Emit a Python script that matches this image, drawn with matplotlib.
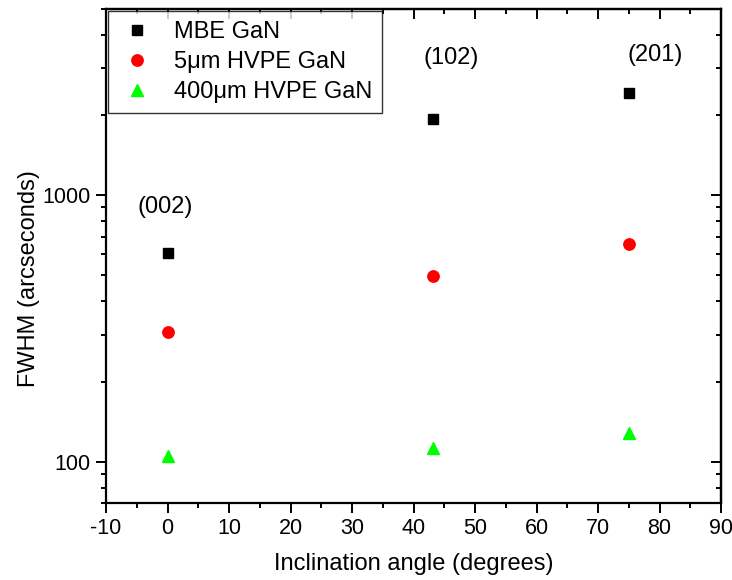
import matplotlib
matplotlib.use("Agg")
import matplotlib.pyplot as plt
from matplotlib.ticker import LogLocator, NullFormatter, FixedLocator, MultipleLocator

plt.rcParams['font.family'] = ['Liberation Sans', 'DejaVu Sans']
plt.rcParams['axes.unicode_minus'] = False

# Inclination angles of the measured reflections (degrees)
angles = [0.0, 43.2, 75.0]
reflections = ["(002)", "(102)", "(201)"]

# Rocking-curve FWHM values (arcseconds)
fwhm_mbe = [605, 1935, 2430]
fwhm_hvpe_5um = [307, 499, 655]
fwhm_hvpe_400um = [105, 113, 128]

series_labels = ["MBE GaN", "5\u03bcm HVPE GaN", "400\u03bcm HVPE GaN"]

# Label anchor points for the reflection names
label_x = [-0.3, 46.1, 79.3]
label_y = [905, 3280, 3360]

fig = plt.figure(figsize=(7.32, 5.8), dpi=100)
ax = fig.add_axes([106 / 732, 1 - 503 / 580, (721 - 106) / 732, (503 - 9) / 580])

ax.plot(angles, fwhm_mbe, linestyle='none', marker='s', markersize=7.2,
        color='black', label=series_labels[0])
ax.plot(angles, fwhm_hvpe_5um, linestyle='none', marker='o', markersize=8.2,
        color='#ff0000', label=series_labels[1])
ax.plot(angles, fwhm_hvpe_400um, linestyle='none', marker='^', markersize=9.0,
        color='#00ff00', label=series_labels[2])

for name, x, y in zip(reflections, label_x, label_y):
    ax.text(x, y, name, ha='center', va='center', fontsize=17)

ax.set_yscale('log')
ax.set_xlim(-10, 90)
ax.set_ylim(70, 5000)

ax.xaxis.set_major_locator(MultipleLocator(10))
ax.xaxis.set_minor_locator(MultipleLocator(5))
ax.yaxis.set_major_locator(FixedLocator([100, 1000]))
ax.yaxis.set_minor_locator(LogLocator(base=10, subs=range(2, 10)))
ax.yaxis.set_minor_formatter(NullFormatter())
ax.set_yticklabels(["100", "1000"])

for side in ax.spines.values():
    side.set_linewidth(1.6)

ax.tick_params(which='both', direction='out', top=False, right=False,
               labelsize=15.5, width=1.4, colors='black')
ax.tick_params(which='major', length=7, pad=4)
ax.tick_params(which='minor', length=3.8)

# inward ticks on the top and right edges
sec_x = ax.secondary_xaxis('top')
sec_x.xaxis.set_major_locator(MultipleLocator(10))
sec_x.xaxis.set_minor_locator(MultipleLocator(5))
sec_x.tick_params(which='both', direction='in', labeltop=False, width=1.4)
sec_x.tick_params(which='major', length=7)
sec_x.tick_params(which='minor', length=3.8)
sec_x.spines['top'].set_linewidth(1.6)

sec_y = ax.secondary_yaxis('right')
sec_y.yaxis.set_major_locator(FixedLocator([100, 1000]))
sec_y.yaxis.set_minor_locator(LogLocator(base=10, subs=range(2, 10)))
sec_y.yaxis.set_minor_formatter(NullFormatter())
sec_y.tick_params(which='both', direction='in', labelright=False, width=1.4)
sec_y.tick_params(which='major', length=7)
sec_y.tick_params(which='minor', length=3.8)
sec_y.spines['right'].set_linewidth(1.6)

ax.set_xlabel("Inclination angle (degrees)", fontsize=17, labelpad=10)
ax.set_ylabel("FWHM (arcseconds)", fontsize=17)
ax.yaxis.set_label_coords(-0.107, 0.455)

leg = ax.legend(loc='upper left', bbox_to_anchor=(0.0, 1.0), fontsize=17,
                frameon=True, fancybox=False, edgecolor='black',
                borderaxespad=0.1, handletextpad=0.8, labelspacing=0.35,
                borderpad=0.4, handlelength=1.6)
leg.get_frame().set_linewidth(1.0)

fig.savefig("out.png", dpi=100)
